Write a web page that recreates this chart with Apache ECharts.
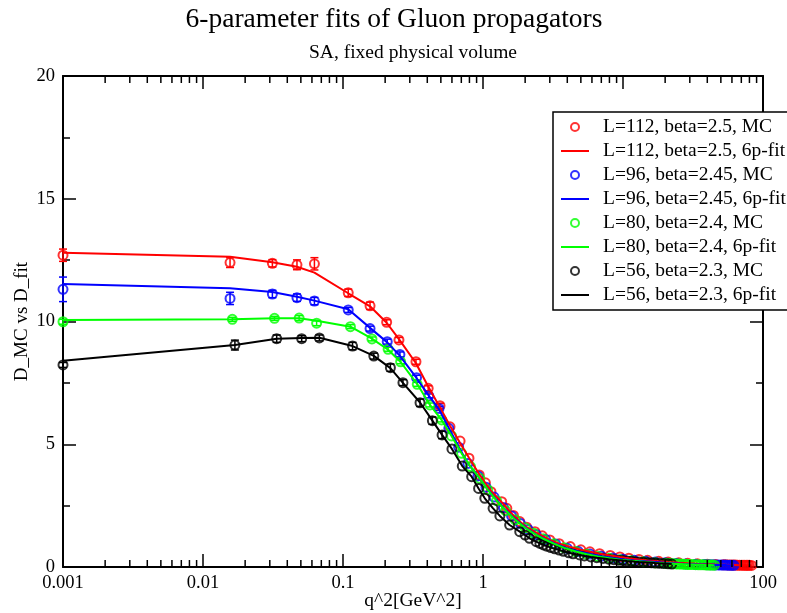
<!DOCTYPE html>
<html>
<head>
<meta charset="utf-8">
<script src="https://cdn.jsdelivr.net/npm/echarts@6/dist/echarts.min.js"></script>
<style>
html,body{margin:0;padding:0;background:#fff}
#chart{width:787px;height:613px}
</style>
</head>
<body>
<div id="chart"></div>
<script>
// L=112, beta=2.5
var q112 = [0.001, 0.0156, 0.0313, 0.0469, 0.0625, 0.109, 0.156, 0.205, 0.251, 0.332, 0.406, 0.493, 0.581, 0.686, 0.794, 0.94, 1.04, 1.14, 1.36, 1.48, 1.65, 1.83, 2.05, 2.35, 2.65, 3.0, 3.5, 4.2, 5.0, 5.8, 6.8, 8.1, 9.5, 11, 13, 15, 18, 21, 25, 29, 34, 40, 46, 52, 54, 56, 58, 60, 62, 64, 66, 68, 70, 72, 74, 76, 78, 80, 83];
var mc112 = [12.7, 12.4, 12.37, 12.31, 12.35, 11.17, 10.64, 9.97, 9.25, 8.36, 7.28, 6.57, 5.71, 5.13, 4.43, 3.75, 3.43, 3.07, 2.66, 2.39, 2.1, 1.85, 1.62, 1.44, 1.27, 1.1, 0.95, 0.83, 0.7, 0.62, 0.54, 0.47, 0.41, 0.36, 0.31, 0.27, 0.23, 0.2, 0.17, 0.15, 0.13, 0.115, 0.1, 0.09, 0.087, 0.085, 0.083, 0.08, 0.079, 0.078, 0.076, 0.075, 0.073, 0.072, 0.071, 0.07, 0.068, 0.067, 0.065];
var fit112 = [12.8, 12.64, 12.41, 12.23, 11.99, 11.15, 10.62, 9.95, 9.28, 8.3, 7.35, 6.5, 5.75, 5.05, 4.45, 3.78, 3.42, 3.1, 2.64, 2.4, 2.1, 1.85, 1.62, 1.43, 1.27, 1.1, 0.95, 0.82, 0.7, 0.62, 0.54, 0.47, 0.41, 0.36, 0.31, 0.27, 0.23, 0.2, 0.17, 0.15, 0.13, 0.115, 0.1, 0.09, 0.087, 0.085, 0.083, 0.08, 0.079, 0.078, 0.076, 0.075, 0.073, 0.072, 0.071, 0.07, 0.068, 0.067, 0.065];
var err112 = [0.25, 0.2, 0.15, 0.2, 0.25, 0.15, 0.15, 0.1, 0.1, 0.1, 0.1, 0.1];

// L=96, beta=2.45
var q96 = [0.001, 0.0156, 0.0313, 0.0469, 0.0625, 0.109, 0.156, 0.207, 0.255, 0.335, 0.41, 0.485, 0.57, 0.67, 0.78, 0.92, 1.05, 1.2, 1.4, 1.6, 1.85, 2.1, 2.4, 2.8, 3.3, 4.0, 4.8, 5.8, 7.0, 8.5, 10, 12, 14.5, 17, 20, 24, 28, 33, 38, 40, 42, 44, 46, 48, 50, 52, 54, 56, 58, 60, 62];
var mc96 = [11.31, 10.94, 11.12, 10.97, 10.83, 10.47, 9.71, 9.18, 8.66, 7.71, 6.97, 6.46, 5.65, 4.88, 4.22, 3.71, 3.25, 2.85, 2.42, 2.08, 1.77, 1.53, 1.32, 1.12, 0.94, 0.76, 0.63, 0.53, 0.44, 0.37, 0.32, 0.27, 0.23, 0.2, 0.17, 0.145, 0.125, 0.11, 0.1, 0.096, 0.092, 0.089, 0.086, 0.083, 0.08, 0.078, 0.077, 0.075, 0.074, 0.072, 0.07];
var fit96 = [11.53, 11.35, 11.2, 11.01, 10.85, 10.5, 9.74, 9.15, 8.6, 7.7, 6.98, 6.42, 5.66, 4.9, 4.22, 3.7, 3.25, 2.85, 2.42, 2.08, 1.77, 1.53, 1.32, 1.12, 0.94, 0.76, 0.63, 0.53, 0.44, 0.37, 0.32, 0.27, 0.23, 0.2, 0.17, 0.145, 0.125, 0.11, 0.1, 0.096, 0.092, 0.089, 0.086, 0.083, 0.08, 0.078, 0.077, 0.075, 0.074, 0.072, 0.07];
var err96 = [0.5, 0.25, 0.15, 0.15, 0.15, 0.1, 0.1, 0.1, 0.1, 0.1, 0.08, 0.08];

// L=80, beta=2.4
var q80 = [0.001, 0.0162, 0.0324, 0.0486, 0.0648, 0.113, 0.161, 0.21, 0.258, 0.339, 0.418, 0.507, 0.596, 0.703, 0.814, 0.95, 1.08, 1.25, 1.45, 1.7, 2.0, 2.3, 2.7, 3.2, 3.8, 4.6, 5.5, 6.6, 8.0, 9.5, 11.5, 14, 17, 20, 21, 22, 23, 24, 25, 26, 27, 28, 29, 30, 31.5, 33, 34.5, 36, 37.5, 39, 40.5, 42, 43.5, 45];
var mc80 = [9.99, 10.09, 10.13, 10.14, 9.93, 9.79, 9.29, 8.87, 8.36, 7.44, 6.6, 5.99, 5.34, 4.63, 4.09, 3.6, 3.15, 2.7, 2.3, 1.92, 1.6, 1.37, 1.15, 0.95, 0.78, 0.63, 0.52, 0.43, 0.36, 0.3, 0.25, 0.21, 0.17, 0.15, 0.145, 0.14, 0.132, 0.125, 0.121, 0.118, 0.114, 0.11, 0.105, 0.1, 0.098, 0.095, 0.092, 0.09, 0.087, 0.085, 0.082, 0.08, 0.077, 0.075];
var fit80 = [10.06, 10.09, 10.13, 10.13, 10.03, 9.79, 9.3, 8.85, 8.35, 7.45, 6.6, 5.98, 5.34, 4.63, 4.09, 3.6, 3.15, 2.7, 2.3, 1.92, 1.6, 1.37, 1.15, 0.95, 0.78, 0.63, 0.52, 0.43, 0.36, 0.3, 0.25, 0.21, 0.17, 0.15, 0.145, 0.14, 0.132, 0.125, 0.121, 0.118, 0.114, 0.11, 0.105, 0.1, 0.098, 0.095, 0.092, 0.09, 0.087, 0.085, 0.082, 0.08, 0.077, 0.075];
var err80 = [0.1, 0.08, 0.08, 0.1, 0.1, 0.08, 0.08, 0.08, 0.08, 0.08, 0.08, 0.08];

// L=56, beta=2.3
var q56 = [0.001, 0.0169, 0.0336, 0.0507, 0.0678, 0.117, 0.166, 0.218, 0.268, 0.355, 0.435, 0.51, 0.6, 0.711, 0.83, 0.93, 1.03, 1.18, 1.32, 1.55, 1.83, 2.0, 2.15, 2.4, 2.55, 2.7, 2.85, 3.05, 3.25, 3.5, 3.75, 4.1, 4.4, 4.9, 5.3, 5.9, 6.5, 7.2, 7.9, 8.6, 9.3, 10, 10.7, 11.5, 12.2, 13, 14, 15, 16, 17, 18.2, 19.5, 21, 22.3];
var mc56 = [8.23, 9.04, 9.3, 9.3, 9.33, 9.0, 8.59, 8.12, 7.51, 6.69, 5.96, 5.38, 4.81, 4.11, 3.68, 3.2, 2.8, 2.39, 2.08, 1.71, 1.44, 1.3, 1.17, 1.03, 0.96, 0.9, 0.85, 0.79, 0.74, 0.69, 0.64, 0.58, 0.54, 0.49, 0.45, 0.41, 0.38, 0.35, 0.32, 0.3, 0.28, 0.26, 0.245, 0.23, 0.215, 0.2, 0.19, 0.18, 0.17, 0.16, 0.15, 0.14, 0.13, 0.12];
var fit56 = [8.4, 9.04, 9.3, 9.33, 9.34, 9.0, 8.6, 8.1, 7.5, 6.7, 5.96, 5.38, 4.81, 4.11, 3.68, 3.2, 2.8, 2.39, 2.08, 1.71, 1.44, 1.3, 1.17, 1.03, 0.96, 0.9, 0.85, 0.79, 0.74, 0.69, 0.64, 0.58, 0.54, 0.49, 0.45, 0.41, 0.38, 0.35, 0.32, 0.3, 0.28, 0.26, 0.245, 0.23, 0.215, 0.2, 0.19, 0.18, 0.17, 0.16, 0.15, 0.14, 0.13, 0.12];
var err56 = [0.1, 0.2, 0.15, 0.12, 0.12, 0.15, 0.12, 0.15, 0.12, 0.15, 0.15, 0.15];

var xTickLabels = ['0.001', '0.01', '0.1', '1', '10', '100'];
var yTicks = [0, 5, 10, 15, 20];

var FONT = 'Liberation Serif';

// minor log ticks 2..9 in each decade
var xMinor = [];
for (var k = -3; k < 2; k++) {
    for (var m = 2; m < 10; m++) {
        xMinor.push([m * Math.pow(10, k), 0]);
    }
}

function pairs(q, d) {
    var out = [];
    for (var i = 0; i < q.length; i++) out.push([q[i], d[i]]);
    return out;
}

function mcSeries(name, color, q, d) {
    return {
        name: name, type: 'scatter', data: pairs(q, d),
        symbol: 'circle', symbolSize: 9, clip: false,
        itemStyle: {color: 'rgba(0,0,0,0)', borderColor: color, borderWidth: 2}
    };
}

function fitSeries(name, color, q, d) {
    return {
        name: name, type: 'line', data: pairs(q, d),
        symbol: 'none', showSymbol: false,
        lineStyle: {color: color, width: 2}, itemStyle: {color: color}
    };
}

// error bars
function errSeries(color, q, d, e) {
    var data = [];
    for (var i = 0; i < e.length; i++) data.push([q[i], d[i], e[i]]);
    return {
        type: 'custom', data: data, silent: true, clip: false,
        encode: {x: 0, y: 1},
        renderItem: function (params, api) {
            var x = api.value(0), y = api.value(1), s = api.value(2);
            var lo = api.coord([x, y - s]), hi = api.coord([x, y + s]);
            var st = {stroke: color, lineWidth: 1.5};
            return {type: 'group', children: [
                {type: 'line', shape: {x1: lo[0], y1: lo[1], x2: hi[0], y2: hi[1]}, style: st},
                {type: 'line', shape: {x1: lo[0] - 4, y1: lo[1], x2: lo[0] + 4, y2: lo[1]}, style: st},
                {type: 'line', shape: {x1: hi[0] - 4, y1: hi[1], x2: hi[0] + 4, y2: hi[1]}, style: st}
            ]};
        }
    };
}

var names = [
    'L=112, beta=2.5, MC', 'L=112, beta=2.5, 6p-fit',
    'L=96, beta=2.45, MC', 'L=96, beta=2.45, 6p-fit',
    'L=80, beta=2.4, MC', 'L=80, beta=2.4, 6p-fit',
    'L=56, beta=2.3, MC', 'L=56, beta=2.3, 6p-fit'
];
// fit entries get a plain line as icon
var lineIcon = 'path://M0,0L28,0L28,2L0,2Z';
var legendData = names.map(function (n, i) {
    return i % 2 ? {name: n, icon: lineIcon} : {name: n};
});

var chart = echarts.init(document.getElementById('chart'));

var axisX = {
    type: 'log', logBase: 10, min: 0.001, max: 100,
    axisLine: {show: true, onZero: false, lineStyle: {color: '#000', width: 2}},
    axisTick: {show: true, inside: true, length: 13, lineStyle: {color: '#000', width: 1.5}},
    splitLine: {show: false}
};
var axisY = {
    type: 'value', min: 0, max: 20, interval: 5,
    axisLine: {show: true, onZero: false, lineStyle: {color: '#000', width: 2}},
    axisTick: {show: true, inside: true, length: 13, lineStyle: {color: '#000', width: 1.5}},
    minorTick: {show: true, splitNumber: 2, length: 7, lineStyle: {color: '#000', width: 1.5}},
    splitLine: {show: false}
};

option = {
    animation: false,
    backgroundColor: '#fff',
    textStyle: {fontFamily: FONT},
    grid: {left: 63, right: 24, top: 76, bottom: 46, containLabel: false, outerBoundsMode: 'none'},
    graphic: [
        {type: 'text', x: 394, y: 20, style: {text: '6-parameter fits of Gluon propagators', font: '27.5px "Liberation Serif"', fill: '#000', textAlign: 'center', textVerticalAlign: 'middle'}},
        {type: 'text', x: 413, y: 53, style: {text: 'SA, fixed physical volume', font: '19.5px "Liberation Serif"', fill: '#000', textAlign: 'center', textVerticalAlign: 'middle'}}
    ],
    legend: {
        data: legendData, orient: 'vertical', left: 553, top: 112,
        padding: [3, 8, 3, 8], itemGap: 0, itemWidth: 28, itemHeight: 8,
        backgroundColor: '#fff', borderColor: '#000', borderWidth: 1.5, borderRadius: 0,
        textStyle: {fontFamily: FONT, fontSize: 19.5, color: '#000', lineHeight: 24, padding: [0, 0, 0, 9]}
    },
    xAxis: [
        Object.assign({}, axisX, {
            position: 'bottom',
            name: 'q^2[GeV^2]', nameLocation: 'middle', nameGap: 24, nameMoveOverlap: false,
            nameTextStyle: {fontFamily: FONT, fontSize: 19.5, color: '#000'},
            axisLabel: {show: true, margin: 7, fontFamily: FONT, fontSize: 18.5, color: '#000',
                formatter: function (v) { return xTickLabels[Math.round(Math.log10(v)) + 3]; }}
        }),
        Object.assign({}, axisX, {position: 'top', axisLabel: {show: false}})
    ],
    yAxis: [
        Object.assign({}, axisY, {
            position: 'left',
            name: 'D_MC vs D_fit', nameLocation: 'middle', nameGap: 31, nameRotate: 90, nameMoveOverlap: false,
            nameTextStyle: {fontFamily: FONT, fontSize: 19, color: '#000'},
            axisLabel: {show: true, margin: 8, fontFamily: FONT, fontSize: 18.5, color: '#000',
                formatter: function (v) { return yTicks.indexOf(v) >= 0 ? String(v) : ''; }}
        }),
        Object.assign({}, axisY, {position: 'right', axisLabel: {show: false}})
    ],
    series: [
        mcSeries(names[0], '#ff0000', q112, mc112),
        fitSeries(names[1], '#ff0000', q112, fit112),
        errSeries('#ff0000', q112, mc112, err112),
        mcSeries(names[2], '#0000ff', q96, mc96),
        fitSeries(names[3], '#0000ff', q96, fit96),
        errSeries('#0000ff', q96, mc96, err96),
        mcSeries(names[4], '#00ff00', q80, mc80),
        fitSeries(names[5], '#00ff00', q80, fit80),
        errSeries('#00ff00', q80, mc80, err80),
        mcSeries(names[6], '#000000', q56, mc56),
        fitSeries(names[7], '#000000', q56, fit56),
        errSeries('#000000', q56, mc56, err56),
        {
            // minor ticks on bottom and top
            type: 'custom', data: xMinor, silent: true, clip: false, z: 5,
            encode: {x: 0, y: 1},
            renderItem: function (params, api) {
                var b = api.coord([api.value(0), 0]);
                var t = api.coord([api.value(0), 20]);
                var st = {stroke: '#000', lineWidth: 1.5};
                return {type: 'group', children: [
                    {type: 'line', shape: {x1: b[0], y1: b[1], x2: b[0], y2: b[1] - 7}, style: st},
                    {type: 'line', shape: {x1: t[0], y1: t[1], x2: t[0], y2: t[1] + 7}, style: st}
                ]};
            }
        }
    ]
};

chart.setOption(option);
</script>
</body>
</html>
